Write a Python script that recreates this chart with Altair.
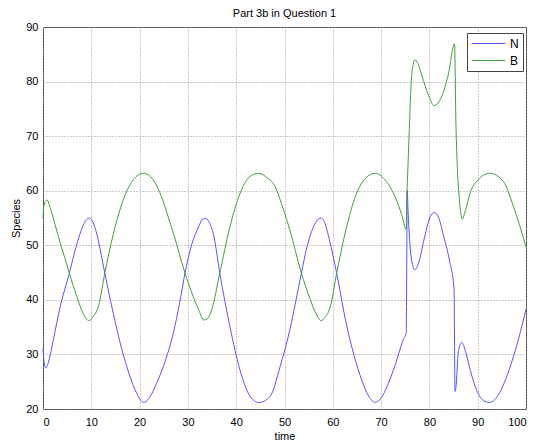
import altair as alt
import pandas as pd

# N series (blue): time, value
N_t = [0, 0.2, 0.6, 1.2, 2.1, 3.5, 5.45, 7.0, 8.3, 9.0, 9.6, 10.3, 11.1, 12.0, 12.8, 14.6, 16.3, 18.0,
       19.4, 20.8, 22.2, 23.5, 25.0, 27.0, 28.3, 29.4, 30.3, 31.1, 32.3, 33.0, 33.8, 34.5, 35.3, 36.6,
       38.7, 40.8, 42.9, 44.7, 47.0, 49.1, 51.1, 52.4, 53.5, 54.6, 55.6, 56.7, 57.6, 58.4, 59.3, 60.8,
       62.7, 64.4, 66.0, 67.4, 68.8, 70.2, 71.5, 73.0, 74.5, 75.2, 75.3, 75.4, 75.6, 76.2, 77.0, 78.0,
       79.0, 80.2, 81.0, 81.8, 83.0, 84.2, 85.1, 85.3, 85.5, 86.0, 86.7, 87.5, 88.5, 90.0, 91.5, 92.5,
       94.0, 95.5, 97.0, 98.5, 100]
N_v = [31.0, 28.8, 27.5, 28.8, 32.5, 38.5, 44.9, 50.2, 53.6, 54.7, 55.0, 54.3, 52.2, 48.5, 44.9, 37.3, 31.0, 26.0,
       22.9, 21.2, 22.3, 24.7, 28.0, 34.0, 39.5, 44.9, 48.5, 51.0, 53.5, 54.8, 54.9, 54.0, 52.0, 44.9,
       35.1, 27.1, 22.3, 21.2, 22.3, 27.8, 34.5, 40.0, 44.9, 49.5, 52.5, 54.5, 55.0, 54.0, 51.0, 44.9,
       36.0, 29.8, 25.3, 22.4, 21.2, 22.3, 24.7, 28.3, 32.5, 34.0, 45.0, 60.0, 56.0, 48.0, 45.5, 47.5,
       51.5, 55.3, 56.0, 55.3, 51.5, 47.0, 42.0, 23.2, 24.0, 30.5, 32.2, 30.5, 27.0, 23.0, 21.4, 21.2,
       22.2, 24.8, 28.5, 33.0, 38.3]

# B series (green): time, value
B_t = [0, 0.2, 0.8, 1.6, 2.5, 3.5, 4.5, 5.45, 7.0, 8.3, 9.0, 9.6, 10.3, 11.5, 12.8, 14.6, 16.6, 18.7,
       20.8, 22.8, 24.5, 26.0, 27.0, 29.4, 31.1, 32.3, 33.3, 34.0, 34.9, 36.6, 38.7, 40.8, 42.7, 44.7,
       46.5, 47.7, 49.8, 51.1, 53.5, 55.2, 56.5, 57.6, 58.4, 59.5, 60.8, 62.7, 64.7, 66.8, 68.8, 70.8,
       72.9, 74.3, 75.2, 75.3, 75.5, 75.8, 76.2, 76.6, 77.0, 77.6, 78.4, 79.8, 81.0, 82.5, 83.9, 85.2,
       85.5, 85.8, 86.2, 86.8, 87.5, 88.4, 90.1, 92.5, 95.3, 97.4, 100]
B_v = [55.0, 57.3, 58.3, 56.6, 53.8, 50.6, 47.7, 44.9, 40.6, 37.5, 36.5, 36.2, 36.8, 38.9, 44.9, 52.2, 58.3, 62.0,
       63.2, 62.0, 59.0, 55.0, 52.2, 44.9, 40.6, 38.0, 36.3, 36.5, 38.1, 44.9, 53.4, 59.5, 62.5, 63.2,
       62.3, 61.3, 56.5, 52.8, 44.9, 40.4, 37.5, 36.2, 36.8, 38.8, 44.9, 52.8, 59.0, 62.3, 63.2, 62.0,
       58.9, 55.5, 52.9, 58.0, 62.9, 70.2, 79.4, 83.0, 84.0, 83.3, 81.2, 77.5, 75.6, 77.2, 81.2, 86.9,
       72.0, 64.0, 58.5, 54.8, 56.5, 59.5, 62.0, 63.2, 61.7, 57.1, 49.7]

x_ticks = list(range(0, 101, 10))
y_ticks = list(range(20, 91, 10))

df = pd.concat([
    pd.DataFrame({"time": N_t, "value": N_v, "series": "N"}),
    pd.DataFrame({"time": B_t, "value": B_v, "series": "B"}),
], ignore_index=True)

FONT = "Liberation Sans"

chart = alt.Chart(df).mark_line(strokeWidth=1, interpolate="monotone").encode(
    x=alt.X("time:Q", scale=alt.Scale(domain=[0, 100], nice=False, zero=False),
            axis=alt.Axis(values=x_ticks, title="time", grid=True, ticks=False, domain=False,
                          labelPadding=7, titlePadding=3, format="d")),
    y=alt.Y("value:Q", scale=alt.Scale(domain=[20, 90], nice=False, zero=False),
            axis=alt.Axis(values=y_ticks, title="Species", grid=True, ticks=False, domain=False,
                          labelPadding=5, titlePadding=4, format="d")),
    color=alt.Color("series:N",
                    scale=alt.Scale(domain=["N", "B"], range=["#5555ff", "#3f9f3f"]),
                    legend=alt.Legend(title=None, orient="none", legendX=424, legendY=6,
                                      symbolType="M-2.8,0H2.8", symbolSize=144, symbolStrokeWidth=1,
                                      symbolOffset=11,
                                      fillColor="white", strokeColor="#444", padding=4,
                                      labelFontSize=12, labelFont=FONT, labelColor="#000",
                                      rowPadding=4, labelOffset=15)),
    order=alt.Order("time:Q"),
).properties(
    width=483,
    height=382,
    title=alt.TitleParams("Part 3b in Question 1", fontSize=11, fontWeight="normal",
                          font=FONT, anchor="middle", offset=2, color="#000"),
    autosize=alt.AutoSizeParams(type="none"),
    padding={"left": 35, "top": 19, "right": 1, "bottom": 33},
).configure_view(
    stroke="#444", strokeWidth=1
).configure_axis(
    labelFont=FONT, titleFont=FONT, labelFontSize=11, titleFontSize=11,
    labelColor="#000", titleColor="#000", titleFontWeight="normal",
    gridColor="#999", gridDash=[1, 2], gridWidth=1,
)

chart.save("out.html", embed_options={"renderer": "svg", "actions": False})
